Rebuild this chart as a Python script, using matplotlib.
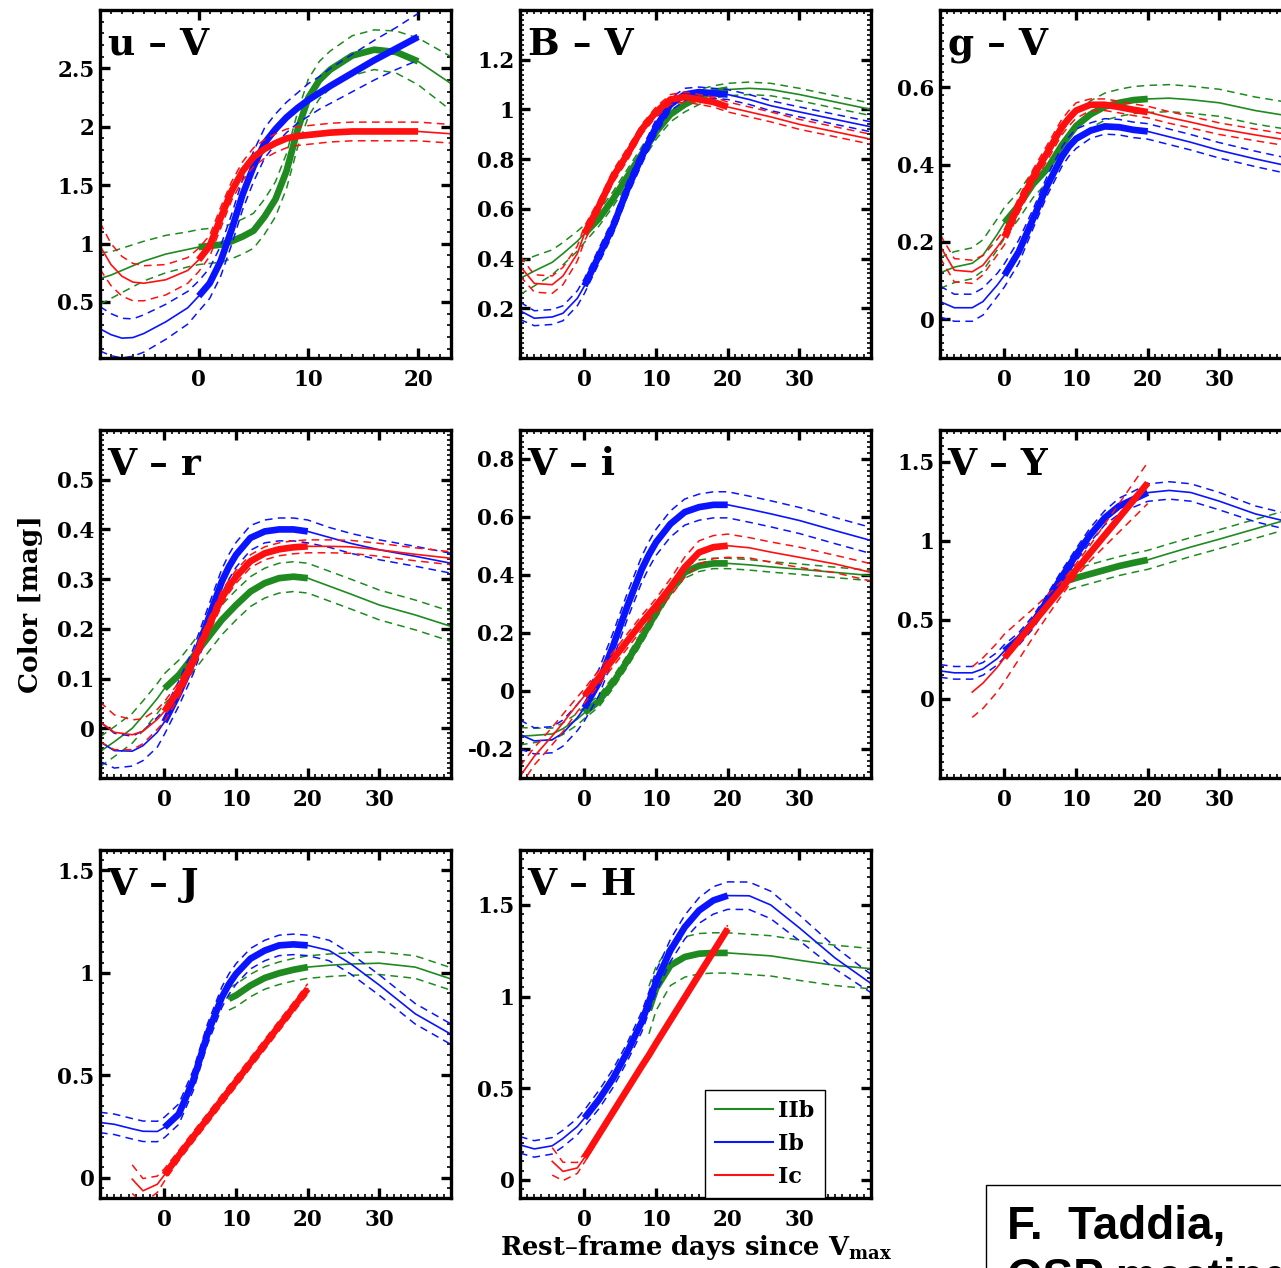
import numpy as np
import matplotlib
matplotlib.use("Agg")
import matplotlib.pyplot as plt
from matplotlib.lines import Line2D
from matplotlib.patches import Rectangle
from matplotlib.ticker import MultipleLocator, FixedLocator, FuncFormatter

nan = np.nan

# ---- u - V (finer sampling, range -9..23) ----
days_u = [-9, -8, -7, -6, -5, -3, -1, 0, 1, 2, 3, 4, 5, 6, 7, 8, 9, 10, 11, 12, 14, 16, 18, 20, 23]
uV_IIb = [0.70, 0.73, 0.77, 0.81, 0.85, 0.91, 0.95, 0.97, 0.98, 0.99, 1.02, 1.06, 1.11, 1.23, 1.38,
          1.62, 1.97, 2.25, 2.40, 2.49, 2.61, 2.66, 2.64, 2.56, 2.37]
uV_IIb_err = [0.22, 0.20, 0.19, 0.18, 0.17, 0.16, 0.15, 0.15, 0.15, 0.15, 0.15, 0.15, 0.15, 0.15, 0.15,
              0.15, 0.15, 0.16, 0.16, 0.16, 0.17, 0.17, 0.18, 0.20, 0.23]
uV_Ib = [0.27, 0.22, 0.19, 0.195, 0.23, 0.33, 0.45, 0.55, 0.66, 0.85, 1.12, 1.42, 1.66, 1.86, 1.98,
         2.08, 2.16, 2.23, 2.29, 2.35, 2.46, 2.57, 2.67, 2.77, nan]
uV_Ib_err = [0.19, 0.18, 0.17, 0.16, 0.16, 0.15, 0.14, 0.13, 0.13, 0.13, 0.13, 0.13, 0.13, 0.13, 0.13,
             0.13, 0.13, 0.14, 0.14, 0.15, 0.16, 0.17, 0.18, 0.20, nan]
uV_Ic = [0.98, 0.82, 0.72, 0.67, 0.66, 0.69, 0.77, 0.86, 0.98, 1.22, 1.45, 1.62, 1.74, 1.81, 1.86,
         1.90, 1.92, 1.93, 1.94, 1.95, 1.96, 1.96, 1.96, 1.96, 1.94]
uV_Ic_err = [0.20, 0.18, 0.17, 0.16, 0.15, 0.13, 0.11, 0.10, 0.09, 0.09, 0.08, 0.08, 0.08, 0.08, 0.08,
             0.08, 0.08, 0.08, 0.08, 0.08, 0.08, 0.08, 0.08, 0.08, 0.08]

# ---- other colours (range -9..40) ----
days = [-9, -7, -4.5, -3, -1, 0, 2, 4, 6, 8, 9, 10, 12, 14, 16, 18, 20, 23, 26, 30, 35, 40]

BV_IIb = [0.32, 0.35, 0.385, 0.42, 0.47, 0.50, 0.56, 0.64, 0.73, 0.82, 0.865, 0.91, 0.98, 1.02, 1.05,
          1.07, 1.08, 1.085, 1.08, 1.06, 1.03, 1.00]
BV_IIb_err = [0.065, 0.06, 0.05, 0.045, 0.04, 0.035, 0.03, 0.03, 0.03, 0.03, 0.03, 0.03, 0.03, 0.03,
              0.03, 0.025, 0.025, 0.025, 0.025, 0.025, 0.025, 0.025]
BV_Ib = [0.19, 0.16, 0.165, 0.18, 0.24, 0.29, 0.41, 0.53, 0.68, 0.81, 0.87, 0.93, 1.02, 1.06, 1.07,
         1.065, 1.06, 1.04, 1.015, 0.99, 0.96, 0.93]
BV_Ib_err = [0.035, 0.03, 0.03, 0.03, 0.03, 0.03, 0.03, 0.03, 0.03, 0.03, 0.03, 0.03, 0.025, 0.025,
             0.02, 0.02, 0.02, 0.02, 0.02, 0.02, 0.02, 0.02]
BV_Ic = [0.37, 0.30, 0.295, 0.33, 0.42, 0.50, 0.61, 0.73, 0.82, 0.92, 0.955, 0.99, 1.04, 1.05, 1.04,
         1.03, 1.01, 0.99, 0.97, 0.94, 0.91, 0.88]
BV_Ic_err = [0.04, 0.035, 0.035, 0.035, 0.03, 0.03, 0.025, 0.025, 0.025, 0.02, 0.02, 0.02, 0.02, 0.02,
             0.02, 0.02, 0.02, 0.02, 0.02, 0.02, 0.02, 0.02]

gV_IIb = [0.12, 0.135, 0.145, 0.166, 0.22, 0.25, 0.295, 0.35, 0.39, 0.45, 0.475, 0.50, 0.53, 0.55,
          0.56, 0.567, 0.57, 0.572, 0.568, 0.56, 0.54, 0.525]
gV_IIb_err = [0.04, 0.04, 0.04, 0.04, 0.04, 0.04, 0.035, 0.035, 0.035, 0.035, 0.035, 0.035, 0.035,
              0.035, 0.035, 0.035, 0.035, 0.035, 0.035, 0.035, 0.035, 0.035]
gV_Ib = [0.046, 0.03, 0.03, 0.046, 0.089, 0.114, 0.175, 0.26, 0.347, 0.42, 0.447, 0.467, 0.488,
         0.499, 0.497, 0.49, 0.486, 0.472, 0.458, 0.437, 0.415, 0.395]
gV_Ib_err = [0.04, 0.035, 0.035, 0.035, 0.03, 0.03, 0.03, 0.025, 0.025, 0.025, 0.025, 0.025, 0.02,
             0.02, 0.02, 0.02, 0.02, 0.02, 0.02, 0.02, 0.02, 0.02]
gV_Ic = [0.19, 0.127, 0.123, 0.14, 0.187, 0.213, 0.295, 0.368, 0.432, 0.497, 0.52, 0.54, 0.555,
         0.555, 0.549, 0.542, 0.536, 0.522, 0.51, 0.493, 0.477, 0.462]
gV_Ic_err = [0.03, 0.03, 0.03, 0.025, 0.02, 0.02, 0.02, 0.02, 0.02, 0.02, 0.02, 0.02, 0.015, 0.015,
             0.015, 0.015, 0.015, 0.015, 0.015, 0.015, 0.015, 0.015]

Vr_IIb = [-0.047, -0.027, 0.0, 0.025, 0.06, 0.08, 0.107, 0.144, 0.181, 0.218, 0.233, 0.248, 0.275,
          0.292, 0.302, 0.305, 0.302, 0.286, 0.27, 0.248, 0.228, 0.205]
Vr_IIb_err = [0.03] * 22
Vr_Ib = [-0.027, -0.045, -0.046, -0.035, -0.008, 0.013, 0.07, 0.134, 0.215, 0.295, 0.325, 0.349,
         0.383, 0.396, 0.40, 0.40, 0.396, 0.384, 0.372, 0.359, 0.346, 0.332]
Vr_Ib_err = [0.04, 0.035, 0.03, 0.03, 0.03, 0.025, 0.025, 0.025, 0.025, 0.025, 0.025, 0.025, 0.025,
             0.023, 0.023, 0.023, 0.023, 0.02, 0.02, 0.02, 0.02, 0.02]
Vr_Ic = [0.013, -0.008, -0.013, -0.006, 0.018, 0.034, 0.077, 0.134, 0.20, 0.262, 0.285, 0.305, 0.336,
         0.352, 0.36, 0.364, 0.366, 0.366, 0.365, 0.359, 0.35, 0.342]
Vr_Ic_err = [0.04, 0.035, 0.03, 0.025, 0.02, 0.02, 0.015, 0.015, 0.015, 0.015, 0.013, 0.013, 0.013,
             0.013, 0.013, 0.013, 0.013, 0.013, 0.013, 0.013, 0.013, 0.013]

Vi_IIb = [-0.156, -0.153, -0.148, -0.13, -0.097, -0.075, -0.035, 0.029, 0.104, 0.184, 0.227, 0.27,
          0.352, 0.409, 0.432, 0.44, 0.44, 0.435, 0.428, 0.42, 0.409, 0.398]
Vi_IIb_err = [0.03, 0.025, 0.02, 0.02, 0.02, 0.02, 0.02, 0.02, 0.02, 0.02, 0.02, 0.02, 0.02, 0.02,
              0.02, 0.018, 0.018, 0.018, 0.018, 0.018, 0.018, 0.018]
Vi_Ib = [-0.15, -0.172, -0.168, -0.145, -0.092, -0.058, 0.029, 0.156, 0.294, 0.42, 0.47, 0.513,
         0.576, 0.617, 0.634, 0.642, 0.642, 0.627, 0.611, 0.588, 0.553, 0.519]
Vi_Ib_err = [0.05, 0.045, 0.045, 0.045, 0.045, 0.045, 0.045, 0.045, 0.045, 0.045, 0.045, 0.045,
             0.045, 0.045, 0.045, 0.045, 0.045, 0.045, 0.045, 0.045, 0.045, 0.045]
Vi_Ic = [-0.294, -0.225, -0.155, -0.11, -0.046, -0.017, 0.046, 0.11, 0.173, 0.236, 0.265, 0.294,
         0.357, 0.427, 0.478, 0.496, 0.501, 0.494, 0.479, 0.461, 0.438, 0.409]
Vi_Ic_err = [0.035, 0.03, 0.03, 0.03, 0.025, 0.025, 0.025, 0.025, 0.025, 0.025, 0.025, 0.025, 0.03,
             0.035, 0.04, 0.04, 0.04, 0.035, 0.035, 0.035, 0.03, 0.03]

VY_IIb = [nan] * 10 + [0.75, 0.765, 0.79, 0.815, 0.84, 0.86, 0.879, 0.92, 0.96, 1.01, 1.075, 1.14]
VY_IIb_err = [nan] * 10 + [0.06] * 12
VY_Ib = [0.177, 0.165, 0.165, 0.19, 0.255, 0.304, 0.379, 0.485, 0.623, 0.772, 0.84, 0.911, 1.038,
         1.145, 1.219, 1.262, 1.304, 1.318, 1.305, 1.25, 1.17, 1.115]
VY_Ib_err = [0.04, 0.04, 0.04, 0.04, 0.04, 0.04, 0.04, 0.04, 0.04, 0.04, 0.04, 0.04, 0.045, 0.045,
             0.05, 0.05, 0.055, 0.055, 0.055, 0.055, 0.05, 0.05]
VY_Ic = [nan, nan, 0.043, 0.10, 0.20, 0.26, 0.37, 0.48, 0.59, 0.70, 0.757, 0.815, 0.925, 1.035, 1.145,
         1.255, 1.365, nan, nan, nan, nan, nan]
VY_Ic_err = [nan, nan, 0.16, 0.16, 0.155, 0.15, 0.12, 0.09, 0.065, 0.045, 0.04, 0.04, 0.05, 0.07,
             0.09, 0.11, 0.13, nan, nan, nan, nan, nan]

VJ_IIb = [nan] * 10 + [0.873, 0.89, 0.938, 0.975, 0.998, 1.015, 1.028, 1.037, 1.043, 1.047, 1.028, 0.97]
VJ_IIb_err = [nan] * 10 + [0.055] * 12
VJ_Ib = [0.269, 0.26, 0.238, 0.226, 0.225, 0.245, 0.31, 0.473, 0.70, 0.88, 0.945, 0.995, 1.069,
         1.109, 1.134, 1.139, 1.134, 1.109, 1.044, 0.94, 0.80, 0.70]
VJ_Ib_err = [0.05] * 22
VJ_Ic = [nan, nan, -0.008, -0.065, -0.033, 0.013, 0.107, 0.198, 0.288, 0.379, 0.424, 0.469, 0.56,
         0.65, 0.741, 0.831, 0.922, nan, nan, nan, nan, nan]
VJ_Ic_err = [nan, nan, 0.07, 0.06, 0.04, 0.03, 0.025, 0.025, 0.025, 0.025, 0.025, 0.025, 0.025,
             0.025, 0.025, 0.025, 0.025, nan, nan, nan, nan, nan]

VH_IIb = [nan] * 10 + [0.926, 1.044, 1.17, 1.216, 1.234, 1.238, 1.238, 1.23, 1.222, 1.198, 1.17, 1.152]
VH_IIb_err = [nan] * 10 + [0.13, 0.12, 0.11, 0.11, 0.11, 0.11, 0.11, 0.11, 0.11, 0.11, 0.11, 0.11]
VH_Ib = [0.19, 0.168, 0.185, 0.225, 0.29, 0.336, 0.436, 0.554, 0.699, 0.862, 0.97, 1.08, 1.252,
         1.379, 1.47, 1.525, 1.551, 1.55, 1.50, 1.375, 1.21, 1.071]
VH_Ib_err = [0.045, 0.045, 0.045, 0.045, 0.045, 0.045, 0.05, 0.05, 0.05, 0.055, 0.055, 0.06, 0.06,
             0.065, 0.07, 0.075, 0.075, 0.075, 0.075, 0.07, 0.06, 0.05]
VH_Ic = [nan, nan, 0.10, 0.045, 0.064, 0.12, 0.245, 0.37, 0.495, 0.62, 0.68, 0.745, 0.87, 0.995,
         1.12, 1.245, 1.37, nan, nan, nan, nan, nan]
VH_Ic_err = [nan, nan, 0.075, 0.05, 0.03, 0.025, 0.02, 0.02, 0.02, 0.02, 0.02, 0.02, 0.02, 0.02,
             0.02, 0.02, 0.02, nan, nan, nan, nan, nan]

types = ["IIb", "Ib", "Ic"]
colors = {"IIb": "#1f8a1f", "Ib": "#0a14ff", "Ic": "#ff1010"}

# (title, days, series per type, thick epochs per type, ylim, yticks, yminor, xlim, xticks, col, row)
panels = [
    ("u – V", days_u, {"IIb": (uV_IIb, uV_IIb_err), "Ib": (uV_Ib, uV_Ib_err), "Ic": (uV_Ic, uV_Ic_err)},
     {"IIb": (0, 20), "Ib": (0, 20), "Ic": (0, 20)},
     (0.02, 3.0), [0.5, 1, 1.5, 2, 2.5], 0.1, (-9, 23), [0, 10, 20], 0, 0),
    ("B – V", days, {"IIb": (BV_IIb, BV_IIb_err), "Ib": (BV_Ib, BV_Ib_err), "Ic": (BV_Ic, BV_Ic_err)},
     {"IIb": (0, 20), "Ib": (0, 20), "Ic": (0, 20)},
     (0.0, 1.4), [0.2, 0.4, 0.6, 0.8, 1, 1.2], 0.02, (-9, 40), [0, 10, 20, 30], 1, 0),
    ("g – V", days, {"IIb": (gV_IIb, gV_IIb_err), "Ib": (gV_Ib, gV_Ib_err), "Ic": (gV_Ic, gV_Ic_err)},
     {"IIb": (0, 20), "Ib": (0, 20), "Ic": (0, 20)},
     (-0.1, 0.8), [0, 0.2, 0.4, 0.6], 0.02, (-9, 40), [0, 10, 20, 30], 2, 0),
    ("V – r", days, {"IIb": (Vr_IIb, Vr_IIb_err), "Ib": (Vr_Ib, Vr_Ib_err), "Ic": (Vr_Ic, Vr_Ic_err)},
     {"IIb": (0, 20), "Ib": (0, 20), "Ic": (0, 20)},
     (-0.1, 0.6), [0, 0.1, 0.2, 0.3, 0.4, 0.5], 0.01, (-9, 40), [0, 10, 20, 30], 0, 1),
    ("V – i", days, {"IIb": (Vi_IIb, Vi_IIb_err), "Ib": (Vi_Ib, Vi_Ib_err), "Ic": (Vi_Ic, Vi_Ic_err)},
     {"IIb": (0, 20), "Ib": (0, 20), "Ic": (0, 20)},
     (-0.3, 0.9), [-0.2, 0, 0.2, 0.4, 0.6, 0.8], 0.02, (-9, 40), [0, 10, 20, 30], 1, 1),
    ("V – Y", days, {"IIb": (VY_IIb, VY_IIb_err), "Ib": (VY_Ib, VY_Ib_err), "Ic": (VY_Ic, VY_Ic_err)},
     {"IIb": (9, 20), "Ib": (0, 20), "Ic": (0, 20)},
     (-0.5, 1.7), [0, 0.5, 1, 1.5], 0.05, (-9, 40), [0, 10, 20, 30], 2, 1),
    ("V – J", days, {"IIb": (VJ_IIb, VJ_IIb_err), "Ib": (VJ_Ib, VJ_Ib_err), "Ic": (VJ_Ic, VJ_Ic_err)},
     {"IIb": (9, 20), "Ib": (0, 20), "Ic": (0, 20)},
     (-0.1, 1.6), [0, 0.5, 1, 1.5], 0.05, (-9, 40), [0, 10, 20, 30], 0, 2),
    ("V – H", days, {"IIb": (VH_IIb, VH_IIb_err), "Ib": (VH_Ib, VH_Ib_err), "Ic": (VH_Ic, VH_Ic_err)},
     {"IIb": (9, 20), "Ib": (0, 20), "Ic": (0, 20)},
     (-0.1, 1.8), [0, 0.5, 1, 1.5], 0.05, (-9, 40), [0, 10, 20, 30], 1, 2),
]

plt.rcParams["font.family"] = "DejaVu Serif"
plt.rcParams["font.weight"] = "bold"
plt.rcParams["mathtext.fontset"] = "dejavuserif"

W, H = 1281, 1268
fig = plt.figure(figsize=(W / 100, H / 100), dpi=100)
fig.patch.set_facecolor("white")

fmt = FuncFormatter(lambda v, p: f"{v:g}")
axes = {}
for title, d, series, thick, ylim, yt, ymin, xlim, xt, c, r in panels:
    left, top, w, h = 100 + 420 * c, 10 + 420 * r, 351, 348
    ax = fig.add_axes([left / W, 1 - (top + h) / H, w / W, h / H])
    axes[title] = ax
    dd = np.array(d, float)
    for t in types:
        m = np.array(series[t][0], float)
        e = np.array(series[t][1], float)
        col = colors[t]
        ax.plot(dd, m + e, color=col, lw=1.1, ls=(0, (5, 3.5)))
        ax.plot(dd, m - e, color=col, lw=1.1, ls=(0, (5, 3.5)))
        ax.plot(dd, m, color=col, lw=1.2)
        k = (dd >= thick[t][0]) & (dd <= thick[t][1])
        ax.plot(dd[k], m[k], color=col, lw=4.8, solid_capstyle="butt")
    ax.set_xlim(*xlim)
    ax.set_ylim(*ylim)
    ax.xaxis.set_major_locator(FixedLocator(xt))
    ax.yaxis.set_major_locator(FixedLocator(yt))
    ax.xaxis.set_minor_locator(MultipleLocator(1))
    ax.yaxis.set_minor_locator(MultipleLocator(ymin))
    ax.xaxis.set_major_formatter(fmt)
    ax.yaxis.set_major_formatter(fmt)
    ax.tick_params(which="both", direction="in", top=True, right=True)
    ax.tick_params(which="major", length=7, width=2.4, labelsize=15.5)
    ax.tick_params(which="minor", length=3, width=1.2)
    ax.tick_params(axis="x", pad=8)
    ax.tick_params(axis="y", pad=4)
    for s in ax.spines.values():
        s.set_linewidth(2.4)
    ax.text(0.022, 0.955, title, transform=ax.transAxes, fontsize=27, fontweight="bold",
            va="top", ha="left")

axes["V – r"].set_ylabel("Color [mag]", fontsize=19, fontweight="bold", labelpad=10)
axes["V – H"].set_xlabel(r"Rest–frame days since V$_\mathbf{max}$", fontsize=18.5,
                         fontweight="bold", labelpad=1)

handles = [Line2D([], [], color=colors[t], lw=1.5) for t in types]
leg = axes["V – H"].legend(handles, types, loc="lower left", bbox_to_anchor=(0.527, 0.0),
                           borderaxespad=0, fancybox=False, framealpha=1, edgecolor="black",
                           prop={"family": "DejaVu Serif", "weight": "bold", "size": 16},
                           handlelength=2.6, handletextpad=0.25, labelspacing=0.5, borderpad=0.45)
leg.get_frame().set_linewidth(1.0)

# name box in the lower right corner (runs off the page)
fig.patches.append(Rectangle((986 / W, -0.05), 0.3, 1 - 1185 / H + 0.05, transform=fig.transFigure,
                             fill=False, edgecolor="black", lw=1.0))
fig.text(1007 / W, 1 - 1239 / H, "F.  Taddia,", fontsize=33, fontweight="bold",
         family="Liberation Sans", va="baseline", ha="left")
fig.text(1007 / W, 1 - 1291 / H, "OSP meeting", fontsize=33, fontweight="bold",
         family="Liberation Sans", va="baseline", ha="left")

fig.savefig("out.png", dpi=100)
